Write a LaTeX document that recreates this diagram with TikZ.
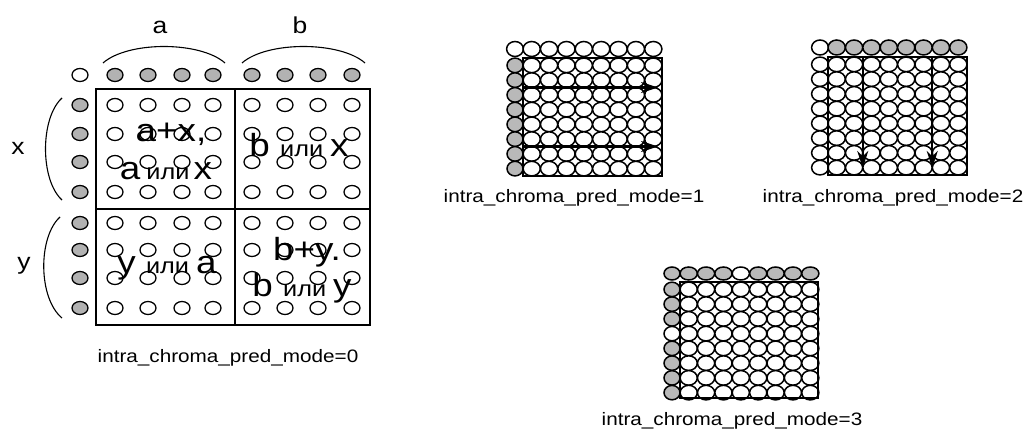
\documentclass[tikz,border=0pt]{standalone}
\usepackage{fontspec}
\setmainfont{Liberation Sans}
\usepackage{graphicx}
\usetikzlibrary{arrows.meta}

% font sizes
\newcommand\lgf{\fontsize{32}{36}\selectfont}
\newcommand\smf{\fontsize{22}{26}\selectfont}
\newcommand\lblf{\fontsize{23}{26}\selectfont}
\newcommand\capf{\fontsize{18}{20}\selectfont}
\newcommand\wide[1]{\scalebox{1.15}[1]{#1}}

% cell size of the 8x8 grids
\newcommand\cwd{17.375}
\newcommand\cht{14.75}

\tikzset{
  hole/.style={draw=black, fill=white, line width=1.3pt},
  known/.style={draw=black, fill=gray!60, line width=1.3pt},
  cell/.style={draw=black, fill=white, line width=1.5pt},
  kcell/.style={draw=black, fill=gray!55, line width=1.5pt},
  frame/.style={draw=black, line width=2.4pt},
  split/.style={draw=black, line width=1.4pt},
  brace/.style={draw=black, line width=1.1pt},
  txt/.style={inner sep=0pt, anchor=base, text=black},
  lbl/.style={inner sep=0pt, anchor=center, font=\lblf},
  caption/.style={inner sep=0pt, anchor=base, font=\capf},
  flow/.style={draw=black, line width=2.2pt, -{Stealth[length=17pt,width=11pt]}},
}

% interior 8x8 samples of a block with top-left corner (#1,#2)
\newcommand\cellgrid[2]{%
  \foreach \i in {1,...,8}{%
    \foreach \j in {1,...,8}{%
      \draw[cell] ({#1+(\i-0.5)*\cwd},{#2+(\j-0.5)*\cht}) ellipse[x radius=8.6pt, y radius=7.3pt];
    }%
  }%
}

\begin{document}
\begin{tikzpicture}[x=1pt, y=-1pt]
\useasboundingbox (0,0) rectangle (1035,430);
\fill[white] (0,0) rectangle (1035,430);

%---------------- mode 0 ----------------
\foreach \x in {115,148,182,213,252,285,318,352}{
  \foreach \y in {105,134,162,192,223,250,278,308}{
    \draw[hole] (\x,\y) ellipse[x radius=8pt, y radius=6.5pt];
  }
  \draw[known] (\x,75) ellipse[x radius=8pt, y radius=6.5pt];
}
\draw[hole] (80,75) ellipse[x radius=8pt, y radius=6.5pt];
\foreach \y in {105,134,162,192,223,250,278,308}
  \draw[known] (80,\y) ellipse[x radius=8pt, y radius=6.5pt];

\draw[frame] (96,89) rectangle (370,325);
\draw[split] (235,89) -- (235,325);
\draw[split] (96,209) -- (370,209);

\draw[brace] (103,63) .. controls (128,41) and (200,41) .. (225,63);
\draw[brace] (242,63) .. controls (267,41) and (340,41) .. (365,63);
\draw[brace] (62,98) .. controls (40,118) and (40,180) .. (62,200);
\draw[brace] (60,217) .. controls (38,237) and (38,298) .. (62,318);

\node[lbl] (la) at (160,27) {\wide{a}};
\node[lbl] (lb) at (300,25) {\wide{b}};
\node[lbl] (lx) at (18,148) {\wide{x}};
\node[lbl] (ly) at (24,266) {\wide{y}};

\node[txt] (t1) at (171,142) {\wide{\lgf a+x,}};
\node[txt] (t2) at (166,180) {\wide{\lgf a\,\smf или\,\lgf x}};
\node[txt] (t3) at (299,157) {\wide{\lgf b \smf или \lgf x}};
\node[txt] (t4) at (167,273) {\wide{\lgf y \smf или \lgf a}};
\node[txt] (t5) at (307,260) {\wide{\lgf b+y.}};
\node[txt] (t6) at (302,296) {\wide{\lgf b \smf или \lgf y}};

\node[caption] (c0) at (228,362) {\wide{intra\_chroma\_pred\_mode=0}};

%---------------- mode 1 ----------------
\cellgrid{523}{58}
\draw[cell] (515,49) ellipse[x radius=8.4pt, y radius=7.5pt];
\foreach \i in {1,...,8}{
  \draw[cell] ({523+(\i-0.5)*\cwd},49) ellipse[x radius=8.6pt, y radius=7.5pt];
  \draw[kcell] (515,{58+(\i-0.5)*\cht}) ellipse[x radius=8pt, y radius=7.3pt];
}
\draw[frame] (523,58) rectangle (662,176);
\coordinate (h1s) at (523,87.5);
\coordinate (h1e) at (658,87.5);
\coordinate (h2s) at (523,146.5);
\coordinate (h2e) at (658,146.5);
\draw[flow] (h1s) -- (h1e);
\draw[flow] (h2s) -- (h2e);
\node[caption] (c1) at (574,203) {\wide{intra\_chroma\_pred\_mode=1}};

%---------------- mode 2 ----------------
\cellgrid{828}{57}
\draw[cell] (820,47.5) ellipse[x radius=8.4pt, y radius=7.5pt];
\foreach \i in {1,...,8}{
  \draw[kcell] ({828+(\i-0.5)*\cwd},47.5) ellipse[x radius=8.6pt, y radius=7.5pt];
  \draw[cell] (820,{57+(\i-0.5)*\cht}) ellipse[x radius=8.4pt, y radius=7.3pt];
}
\draw[frame] (828,57) rectangle (967,175);
\coordinate (v1s) at (862.75,57);
\coordinate (v1e) at (862.75,168);
\coordinate (v2s) at (932.25,57);
\coordinate (v2e) at (932.25,168);
\draw[flow] (v1s) -- (v1e);
\draw[flow] (v2s) -- (v2e);
\node[caption] (c2) at (893,203) {\wide{intra\_chroma\_pred\_mode=2}};

%---------------- mode 3 ----------------
\cellgrid{680}{282}
\draw[kcell] (672,273.5) ellipse[x radius=8pt, y radius=6.5pt];
\foreach \i in {1,2,3,5,6,7,8}{
  \draw[kcell] ({680+(\i-0.5)*\cwd},273.5) ellipse[x radius=8.6pt, y radius=6.5pt];
  \draw[kcell] (672,{282+(\i-0.5)*\cht}) ellipse[x radius=8pt, y radius=7.2pt];
}
\draw[cell] ({680+3.5*\cwd},273.5) ellipse[x radius=8.6pt, y radius=6.5pt];
\draw[cell] (672,{282+3.5*\cht}) ellipse[x radius=8pt, y radius=7.2pt];
\draw[frame] (680,282) rectangle (818,398);
\node[caption] (c3) at (732,425) {\wide{intra\_chroma\_pred\_mode=3}};
\end{tikzpicture}
\end{document}
